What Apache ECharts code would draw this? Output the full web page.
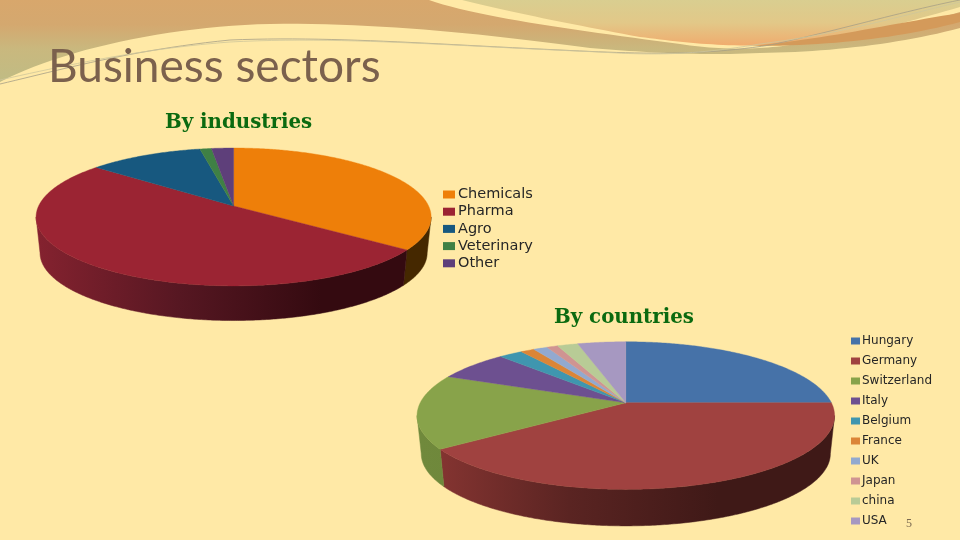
<!DOCTYPE html>
<html><head><meta charset="utf-8">
<style>html,body{margin:0;padding:0;background:#FFE9A6}#c{width:960px;height:540px}</style>
<script src="https://cdn.jsdelivr.net/npm/echarts@6/dist/echarts.min.js"></script>
</head><body><div id="c"></div>
<script>
const industries = ["Chemicals","Pharma","Agro","Veterinary","Other"];
const industryValues = [35.1,50.8,10.9,1.1,2.1];
const industryColors = ["#EE7F09","#9B2433","#17587F","#3F8045","#5E3F7A"];
const industryWalls = [["#6E4100","#573200","#452800"],["#84222F","#561722","#340A10"],["#17587F","#17587F","#17587F"],["#3F8045","#3F8045","#3F8045"],["#5E3F7A","#5E3F7A","#5E3F7A"]];
const countries = ["Hungary","Germany","Switzerland","Italy","Belgium","France","UK","Japan","china","USA"];
const countryValues = [25,40.1,16.3,6.6,2.2,1.25,1.3,1,1.9,4.4];
const countryColors = ["#4672A8","#A04240","#88A34A","#6D5090","#3F96AF","#DB8537","#92A9CF","#CF9492","#B8CB96","#A698C1"];
const countryWalls = [["#4672A8","#4672A8","#4672A8"],["#8A3633","#5A2422","#3F1917"],["#70893C","#6A8438","#647E34"],["#6D5090","#6D5090","#6D5090"],["#3F96AF","#3F96AF","#3F96AF"],["#DB8537","#DB8537","#DB8537"],["#92A9CF","#92A9CF","#92A9CF"],["#CF9492","#CF9492","#CF9492"],["#B8CB96","#B8CB96","#B8CB96"],["#A698C1","#A698C1","#A698C1"]];

function pieSeries(names, values, colors, walls, g){
  const total = values.reduce((a,b)=>a+b,0);
  const ey = g.cy + g.b*g.k/(1-g.k*g.k);
  const silA = Math.acos(-g.k), silB = 2*Math.PI - silA;
  const pt = t => { const u=Math.sin(t), v=Math.cos(t), w=1+g.k*v; return [g.cx+g.a*u/w, g.cy-g.b*v/w]; };
  const low = p => [g.cx+(p[0]-g.cx)*g.s, ey+(p[1]-ey)*g.s+g.d];
  let acc = 0;
  return names.map((name,i)=>{
    const t0 = acc/total*2*Math.PI; acc += values[i];
    const t1 = acc/total*2*Math.PI;
    return {
      type:'custom', name, coordinateSystem:'none', silent:true, animation:false,
      itemStyle:{color:colors[i]}, data:[values[i]],
      renderItem(){
        const N=Math.max(4,Math.ceil((t1-t0)/0.01)), top=[[g.cx,g.cy]];
        for(let j=0;j<=N;j++) top.push(pt(t0+(t1-t0)*j/N));
        const children=[];
        const w0=Math.max(t0,silA), w1=Math.min(t1,silB);
        if(w1>w0){
          const upper=[],lower=[],M=Math.ceil((w1-w0)/0.01);
          for(let j=0;j<=M;j++){const p=pt(w0+(w1-w0)*j/M);upper.push(p);lower.unshift(low(p));}
          const grad=new echarts.graphic.LinearGradient(g.cx-g.a,0,g.cx+g.a*g.gradEnd,0,
            [{offset:0,color:walls[i][0]},{offset:.5,color:walls[i][1]},{offset:1,color:walls[i][2]}],true);
          children.push({type:'polygon',shape:{points:upper.concat(lower)},style:{fill:grad,stroke:grad,lineWidth:.5}});
        }
        children.push({type:'polygon',z2:10,shape:{points:top},style:{fill:colors[i],stroke:colors[i],lineWidth:.4}});
        return {type:'group',children};
      }
    };
  });
}
const geo1={cx:233.6,cy:206,a:195,b:67.2,k:.159,s:.98,d:36,gradEnd:.45};
const geo2={cx:625.8,cy:402.8,a:205.6,b:71.6,k:.173,s:.98,d:38,gradEnd:.45};

function flatten(d){
  const t=d.match(/[MLCZ]|-?[\d.]+/g),pts=[];let i=0,c='',x=0,y=0;
  while(i<t.length){
    if(/[MLCZ]/.test(t[i])){c=t[i++];if(c==='Z')continue;}
    if(c==='C'){
      const a=+t[i],b=+t[i+1],e=+t[i+2],f=+t[i+3],g=+t[i+4],h=+t[i+5];i+=6;
      for(let s=1;s<=24;s++){const u=s/24,m=1-u;
        pts.push([m*m*m*x+3*m*m*u*a+3*m*u*u*e+u*u*u*g,m*m*m*y+3*m*m*u*b+3*m*u*u*f+u*u*u*h]);}
      x=g;y=h;
    }else{x=+t[i];y=+t[i+1];i+=2;pts.push([x,y]);}
  }
  return pts;
}
const bands=[
 {d:"M0 0L429 0C480 18 590 32 680 44C720 50 755 50 790 45C860 36 920 24 960 12L960 28C900 44 830 52 760 53C700 56 640 52 590 48C500 36 380 22 270 24C170 26 60 50 0 82Z",
  fill:{type:'linear',x:0,y:0,x2:0,y2:1,colorStops:[{offset:0,color:'#D8A76C'},{offset:.3,color:'#D4A86F'},{offset:.6,color:'#C9B87E'},{offset:1,color:'#C0BC84'}]}},
 {d:"M462 0L960 0L960 7C900 24 840 42 770 45C720 47 680 42 640 37C570 24 510 12 462 0Z",
  fill:{type:'linear',x:0,y:0,x2:0,y2:1,colorStops:[{offset:0,color:'#D9CE90'},{offset:.5,color:'#E2C888'},{offset:1,color:'#F0AC6E'}]}},
 {d:"M750 46C820 40 890 24 960 13L960 22C900 38 830 46 750 46Z",fill:'#D49A5A'},
];
const lines=[
 "M0 84C60 70 130 50 230 40C330 36 430 44 560 50C640 54 700 56 770 45C840 30 900 12 960 0",
 "M0 80C80 62 150 48 230 42C340 36 450 46 600 52C660 56 700 54 760 44C840 34 900 16 960 2"
];
const graphicEls=bands.map(b=>({type:'polygon',z:-5,silent:true,shape:{points:flatten(b.d)},style:{fill:b.fill}}))
 .concat(lines.map((d,i)=>({type:'polyline',z:-4,silent:true,shape:{points:flatten(d)},style:{fill:'none',stroke:i?'#CFC79A':'#A79F86',lineWidth:.8}})))
 .concat([{type:'text',z:5,left:906,top:518,style:{text:'5',fill:'#7B6A50',font:'12px "Liberation Serif"'}}]);

const txt={fontFamily:'"DejaVu Sans"',color:'#262626'};
const chart=echarts.init(document.getElementById('c'),null,{renderer:'canvas'});
chart.setOption({
  backgroundColor:'#FFE9A6',animation:false,
  title:[
    {text:'Business sectors',left:48,top:44,textStyle:{fontFamily:'Lato',fontWeight:'normal',fontSize:46,color:'#7B614D'},padding:0},
    {text:'By industries',left:165,top:113,textStyle:{fontFamily:'"DejaVu Serif"',fontWeight:'bold',fontSize:19.8,color:'#0B6A10'},padding:0},
    {text:'By countries',left:554,top:308,textStyle:{fontFamily:'"DejaVu Serif"',fontWeight:'bold',fontSize:19.8,color:'#0B6A10'},padding:0}
  ],
  legend:[
    {data:industries,orient:'vertical',left:443,top:187,padding:0,itemWidth:12,itemHeight:8,itemGap:2.2,selectedMode:false,icon:'rect',textStyle:Object.assign({},txt,{fontSize:14.5,padding:[0,0,0,-2],height:12,lineHeight:12})},
    {data:countries,orient:'vertical',left:851,top:335,padding:0,itemWidth:9,itemHeight:7,itemGap:8,selectedMode:false,icon:'rect',textStyle:Object.assign({},txt,{fontSize:12,padding:[0,0,0,-3],height:12,lineHeight:12})}
  ],
  graphic:{elements:graphicEls},
  series:pieSeries(industries,industryValues,industryColors,industryWalls,geo1)
    .concat(pieSeries(countries,countryValues,countryColors,countryWalls,geo2))
});
</script></body></html>
